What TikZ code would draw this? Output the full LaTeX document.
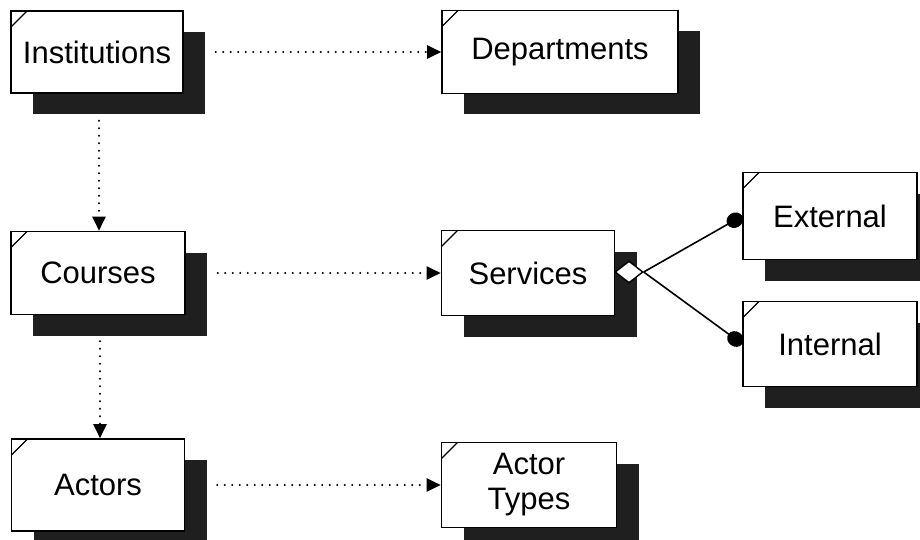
\documentclass[tikz,border=0pt]{standalone}
\usepackage{fontspec}
\setmainfont{Liberation Sans}
\usetikzlibrary{shadows,shapes.geometric,arrows.meta}
\begin{document}
\begin{tikzpicture}[x=1pt,y=-1pt,
  entity/.style={draw=black, line width=1.6pt, fill=white, inner sep=0pt, align=center,
    font=\fontsize{31}{35}\selectfont,
    drop shadow={shadow xshift=22pt, shadow yshift=-21pt, opacity=1, fill=black!88, draw=none},
    path picture={\draw[line width=1.2pt]
      ([yshift=-16pt]path picture bounding box.north west) --
      ([xshift=16pt]path picture bounding box.north west);}},
  link/.style={line width=2.2pt, dash pattern=on 0pt off 7.5pt, line cap=round,
    -{Triangle[length=14pt,width=13pt]}},
  part/.style={line width=1.6pt, -{Ellipse[length=17pt,width=15pt]}}]
\useasboundingbox (0,0) rectangle (920,540);

% entities
\node[entity, minimum width=172pt, minimum height=82pt] (inst) at (97,52) {Institutions};
\node[entity, minimum width=236pt, minimum height=83pt] (dept) at (560,52) {Departments};
\node[entity, minimum width=174pt, minimum height=83pt] (cour) at (98,273) {Courses};
\node[entity, minimum width=173pt, minimum height=85pt] (serv) at (528,273) {Services};
\node[entity, minimum width=174pt, minimum height=87pt] (ext) at (830,216) {External};
\node[entity, minimum width=174pt, minimum height=85pt] (int) at (830,344) {Internal};
\node[entity, minimum width=173pt, minimum height=92pt] (act) at (98,485) {Actors};
\node[entity, minimum width=175pt, minimum height=85pt] (atyp) at (529,485) {Actor\\Types};

% dotted references
\draw[link, shorten <=32pt] (inst.east) -- (dept.west);
\draw[link, shorten <=32pt] (cour.east) -- (serv.west);
\draw[link, shorten <=32pt] (act.east) -- (atyp.west);
\draw[link, shorten <=27pt] ([xshift=2pt]inst.south) -- ([xshift=2pt]inst.south |- cour.north);
\draw[link, shorten <=26pt] ([xshift=2pt]cour.south) -- ([xshift=2pt]cour.south |- act.north);

% aggregation of service kinds
\node[diamond, draw, line width=1.4pt, fill=white, aspect=1.25,
      minimum width=28pt, minimum height=22pt, inner sep=0pt] (agg) at (629,272) {};
\draw[part] (agg.east) -- (ext.west);
\draw[part] (agg.east) -- (int.west);
\end{tikzpicture}
\end{document}
